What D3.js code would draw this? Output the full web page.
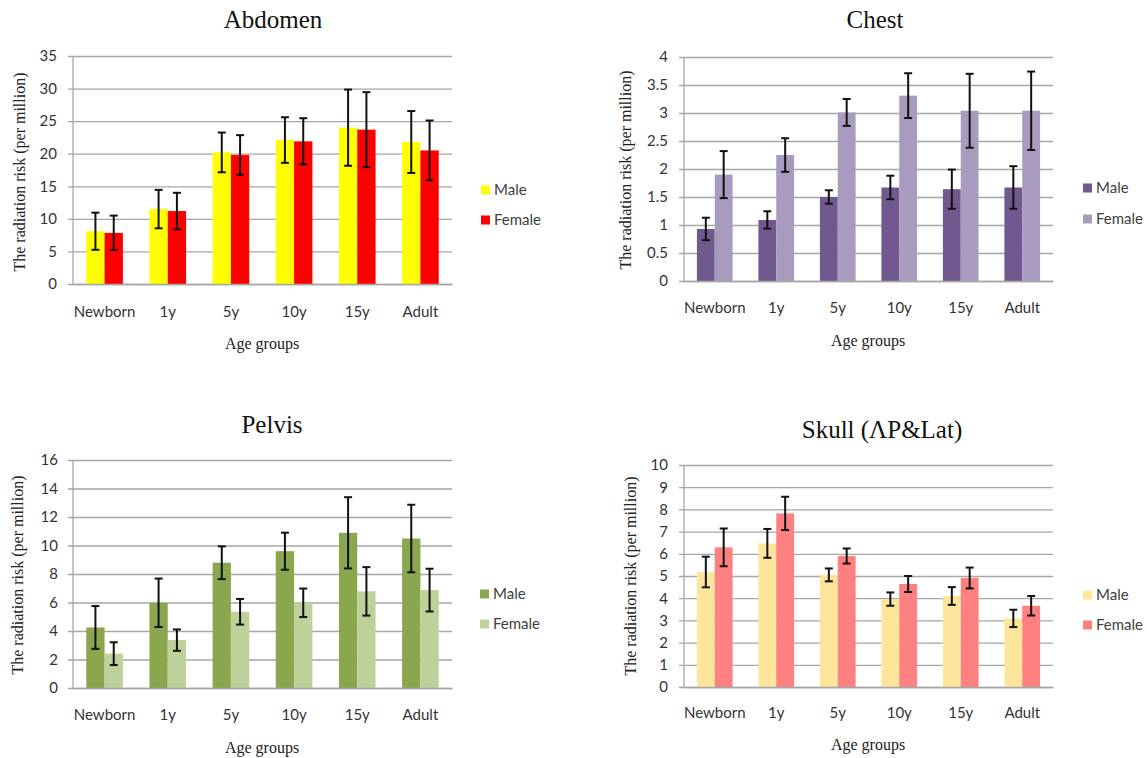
<!DOCTYPE html>
<html><head><meta charset="utf-8">
<script src="https://cdn.jsdelivr.net/npm/d3@7"></script>
<style>
body{margin:0;background:#fff;}
svg{display:block;}
</style></head>
<body>
<svg id="chart" width="1147" height="758"></svg>
<script>
const categories = ["Newborn","1y","5y","10y","15y","Adult"];
const seriesNames = ["Male","Female"];

const abdomenMale = [8.1, 11.5, 20.2, 22.1, 24.0, 21.8];
const abdomenMaleErr = [2.85, 2.95, 3.05, 3.5, 5.85, 4.75];
const abdomenFemale = [7.85, 11.2, 19.8, 21.9, 23.7, 20.5];
const abdomenFemaleErr = [2.65, 2.8, 3.05, 3.55, 5.75, 4.6];
const abdomenTicks = [0,5,10,15,20,25,30,35];

const chestMale = [0.93, 1.09, 1.50, 1.67, 1.64, 1.67];
const chestMaleErr = [0.2, 0.155, 0.12, 0.21, 0.35, 0.38];
const chestFemale = [1.90, 2.25, 3.01, 3.31, 3.04, 3.04];
const chestFemaleErr = [0.42, 0.3, 0.24, 0.4, 0.66, 0.7];
const chestTicks = [0,0.5,1,1.5,2,2.5,3,3.5,4];

const pelvisMale = [4.25, 5.98, 8.79, 9.6, 10.89, 10.49];
const pelvisMaleErr = [1.5, 1.7, 1.15, 1.3, 2.5, 2.37];
const pelvisFemale = [2.41, 3.36, 5.35, 5.98, 6.78, 6.87];
const pelvisFemaleErr = [0.8, 0.75, 0.9, 1.0, 1.7, 1.5];
const pelvisTicks = [0,2,4,6,8,10,12,14,16];

const skullMale = [5.18, 6.47, 5.05, 3.96, 4.1, 3.09];
const skullMaleErr = [0.69, 0.65, 0.29, 0.3, 0.4, 0.39];
const skullFemale = [6.29, 7.82, 5.9, 4.64, 4.91, 3.66];
const skullFemaleErr = [0.85, 0.75, 0.34, 0.36, 0.47, 0.44];
const skullTicks = [0,1,2,3,4,5,6,7,8,9,10];

const svg = d3.select("#chart");
const SANS = "Lato, 'Open Sans', sans-serif";
const SERIF = "'Liberation Serif', 'Times New Roman', serif";

function drawPanel(p) {
  const g = svg.append("g");
  const x = d3.scaleBand().domain(categories).range([p.x0, p.x1]).paddingInner(0.42).paddingOuter(0.21);
  const xs = d3.scaleBand().domain(seriesNames).range([0, x.bandwidth()]);
  const y = d3.scaleLinear().domain([0, p.ticks[p.ticks.length-1]]).range([p.yBot, p.yTop]);

  // gridlines + y axis
  const ya = g.append("g").attr("transform", `translate(${p.x0},0)`)
    .call(d3.axisLeft(y).tickValues(p.ticks).tickSize(-(p.x1 - p.x0)).tickPadding(0).tickFormat(d3.format("")));
  ya.select(".domain").remove();
  ya.selectAll(".tick line").attr("stroke", "#a6a6a6").attr("stroke-width", 1.3).attr("x1", -5);
  ya.selectAll(".tick text").attr("x", p.tickRight - p.x0).attr("fill", "#333")
    .style("font-family", SANS).style("font-size", "15px");
  g.append("line").attr("x1", p.x0).attr("x2", p.x0).attr("y1", p.yTop).attr("y2", p.yBot)
    .attr("stroke", "#a6a6a6").attr("stroke-width", 1.3);

  // bars
  const data = [];
  categories.forEach((c, i) => {
    data.push({c, s: "Male", v: p.male[i], e: p.maleErr[i]});
    data.push({c, s: "Female", v: p.female[i], e: p.femaleErr[i]});
  });
  g.selectAll("rect.bar").data(data).enter().append("rect")
    .attr("x", d => x(d.c) + xs(d.s))
    .attr("width", xs.bandwidth())
    .attr("y", d => y(d.v))
    .attr("height", d => y(0) - y(d.v))
    .attr("fill", d => d.s === "Male" ? p.colors[0] : p.colors[1]);

  // error bars
  const eb = g.selectAll("g.err").data(data).enter().append("g")
    .attr("stroke", "#111").attr("stroke-width", 2);
  eb.append("line")
    .attr("x1", d => x(d.c) + xs(d.s) + xs.bandwidth()/2)
    .attr("x2", d => x(d.c) + xs(d.s) + xs.bandwidth()/2)
    .attr("y1", d => y(d.v + d.e)).attr("y2", d => y(d.v - d.e));
  [1, -1].forEach(sgn => {
    eb.append("line")
      .attr("x1", d => x(d.c) + xs(d.s) + xs.bandwidth()/2 - 4)
      .attr("x2", d => x(d.c) + xs(d.s) + xs.bandwidth()/2 + 4)
      .attr("y1", d => y(d.v + sgn*d.e)).attr("y2", d => y(d.v + sgn*d.e));
  });

  // x axis
  const xa = g.append("g").attr("transform", `translate(0,${p.yBot})`)
    .call(d3.axisBottom(x).tickSize(0).tickPadding(p.catY - p.yBot - 11));
  xa.select(".domain").attr("stroke", "#a6a6a6").attr("stroke-width", 1.3);
  xa.selectAll(".tick text").attr("fill", "#333").style("font-family", SANS).style("font-size", "15px");

  // titles
  g.append("text").attr("x", p.titleX).attr("y", p.titleY).attr("text-anchor", "middle")
    .style("font-family", SERIF).style("font-size", "25px").attr("fill", "#111").text(p.title);
  g.append("text").attr("x", p.xtitleX).attr("y", p.xtitleY).attr("text-anchor", "middle")
    .style("font-family", SERIF).style("font-size", "16px").attr("fill", "#222").text("Age groups");
  g.append("text").attr("transform", `translate(${p.ytitleX},${p.ytitleY}) rotate(-90)`)
    .attr("text-anchor", "middle").attr("dy", "0.35em")
    .style("font-family", SERIF).style("font-size", "16px").attr("fill", "#222")
    .text("The radiation risk (per million)");

  // legend
  seriesNames.forEach((s, i) => {
    g.append("rect").attr("x", p.legendX).attr("y", p.legendY[i] - 4.5).attr("width", 9).attr("height", 9)
      .attr("fill", p.colors[i]);
    g.append("text").attr("x", p.legendX + 13).attr("y", p.legendY[i]).attr("dy", "0.35em")
      .style("font-family", SANS).style("font-size", "15px").attr("fill", "#404040").text(s);
  });
}

drawPanel({title: "Abdomen", male: abdomenMale, maleErr: abdomenMaleErr, female: abdomenFemale, femaleErr: abdomenFemaleErr,
  ticks: abdomenTicks, colors: ["#ffff00", "#ff0000"],
  x0: 73, x1: 452, yTop: 56, yBot: 284, tickRight: 57, catY: 317,
  legendX: 481, legendY: [190, 220], titleX: 273, titleY: 28, ytitleX: 19, ytitleY: 172, xtitleX: 262, xtitleY: 349});

drawPanel({title: "Chest", male: chestMale, maleErr: chestMaleErr, female: chestFemale, femaleErr: chestFemaleErr,
  ticks: chestTicks, colors: ["#71588f", "#a99bbd"],
  x0: 684, x1: 1053, yTop: 57, yBot: 281, tickRight: 668, catY: 313,
  legendX: 1083, legendY: [188, 219], titleX: 875, titleY: 28, ytitleX: 625, ytitleY: 170, xtitleX: 868, xtitleY: 346});

drawPanel({title: "Pelvis", male: pelvisMale, maleErr: pelvisMaleErr, female: pelvisFemale, femaleErr: pelvisFemaleErr,
  ticks: pelvisTicks, colors: ["#8aa64f", "#bdd19b"],
  x0: 73, x1: 452, yTop: 460, yBot: 688, tickRight: 58, catY: 720,
  legendX: 480, legendY: [594, 624], titleX: 272, titleY: 433, ytitleX: 17, ytitleY: 575, xtitleX: 262, xtitleY: 753});

drawPanel({title: "Skull (ΛP&Lat)", male: skullMale, maleErr: skullMaleErr, female: skullFemale, femaleErr: skullFemaleErr,
  ticks: skullTicks, colors: ["#fee59c", "#ff8080"],
  x0: 684, x1: 1053, yTop: 465, yBot: 687, tickRight: 668, catY: 718,
  legendX: 1083, legendY: [595, 625], titleX: 882, titleY: 438, ytitleX: 630, ytitleY: 576, xtitleX: 868, xtitleY: 750});
</script>
</body></html>
